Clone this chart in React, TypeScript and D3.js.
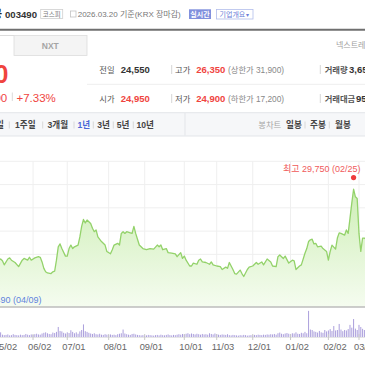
import React from 'react';
import * as d3 from 'd3';

// trading-day index (0 = 2025-05-02) and closing prices (KRW)
const dayIdx = [
  -30, -27, -24, -20, -17, -16, -14, -11, -8, -5, -2,
  0, 1, 2, 3, 5, 6, 7, 9, 11, 13, 14, 16, 17, 18, 20, 22, 23, 24, 25, 26, 27, 29, 30, 31, 32,
  33, 34, 35, 37, 38, 39, 40, 41, 42, 44, 45, 46, 47, 48, 49, 51, 52, 53, 54, 55, 57, 59, 60,
  62, 63, 64, 66, 67, 68, 69, 70, 71, 73, 74, 75, 76, 77, 78, 80, 82, 84, 86, 88, 89, 90, 91,
  93, 94, 96, 98, 99, 101, 102, 103, 104, 106, 107, 108, 110, 111, 112, 113, 115, 117, 118,
  119, 121, 123, 124, 126, 127, 128, 130, 131, 132, 134, 135, 136, 138, 139, 141, 143, 144,
  146, 147, 149, 151, 152, 154, 155, 156, 158, 159, 161, 163, 164, 165, 167, 168, 170, 171,
  172, 173, 174, 175, 176, 177, 179, 180, 182, 183, 184, 185, 187, 188, 189, 190, 192, 193,
  194, 195, 196, 197, 198, 199, 200, 201, 202, 203, 204, 205, 206, 207, 208, 209, 210, 211,
  212, 213,
];
const closes = [
  23800, 23500, 22600, 21300, 20600, 20150, 21000, 21900, 22600, 23100, 23400,
  23550, 23600, 23450, 23100, 23600, 23700, 23500, 23300, 22950, 23500, 23650, 23500, 23750, 23500, 23700, 23800, 23750, 23350, 22800, 22500, 22400, 22350, 22500, 22550, 23500,
  24650, 24900, 24500, 23850, 23850, 24500, 24800, 24500, 24650, 24800, 25500, 26400, 27000, 26700, 26950, 26650, 26250, 25950, 26100, 25500, 25100, 24800, 24250,
  24050, 24400, 24800, 24950, 24800, 25800, 25950, 25800, 25950, 25850, 25800, 26400, 25800, 25300, 24800, 24500, 24400, 24500, 24450, 24800, 24650, 24800, 24400,
  24500, 24150, 24100, 24050, 23800, 24150, 23650, 23850, 23500, 23000, 23000, 23250, 23150, 23500, 23600, 23350, 23300, 23150, 23350,
  23100, 23000, 22950, 22700, 22900, 22800, 23300, 22700, 22350, 22300, 22650, 22350, 22100, 22700, 22900, 23000, 23300, 23150,
  23350, 23100, 23600, 23350, 23000, 22950, 23800, 23950, 23650, 23850, 23250, 23500, 23450, 22700, 23000, 23100, 24100, 24500,
  25100, 25250, 25300, 24900, 24950, 24650, 24700, 24500, 24250, 23500, 24250, 24800, 24450, 25400, 25850, 25800, 25650, 26100,
  25800, 27100, 28400, 29600, 28950, 28800, 25800, 24250, 25400, 25400, 25300, 25000, 24700, 25200, 24800, 25100, 24900, 24700,
  24550, 26350,
];

// daily volume (million shares), index 0 = 2025-05-02
const volumes = [
  4.3, 2.0, 1.0, 0.8, 0.9, 1.1, 0.7, 0.8, 1.2, 0.9,
  0.8, 0.7, 1.0, 0.8, 0.9, 1.3, 1.0, 0.8, 1.1, 0.9,
  1.2, 1.4, 1.1, 1.0, 1.5, 1.8, 2.0, 1.6, 1.3, 1.2,
  1.9, 1.7, 2.2, 4.3, 2.6, 2.4, 1.8, 1.5, 2.0, 1.7,
  2.9, 2.2, 1.6, 2.0, 1.4, 2.4, 3.0, 5.4, 2.5, 2.2,
  1.8, 1.5, 1.3, 1.6, 1.2, 1.1, 1.4, 1.0, 0.9, 1.2,
  1.0, 0.8, 1.1, 0.9, 1.0, 0.8, 1.2, 1.4, 1.6, 3.2,
  1.5, 1.2, 1.0, 0.9, 1.3, 1.4, 1.1, 0.9, 0.8, 0.7,
  0.8, 0.6, 0.7, 0.9, 0.8, 0.7, 0.6, 0.8, 0.9, 0.7,
  1.0, 0.8, 0.7, 0.9, 1.1, 0.8, 0.7, 0.9, 0.8, 1.0,
  1.2, 1.0, 1.3, 1.1, 1.4, 1.6, 1.2, 1.5, 1.3, 1.1,
  1.4, 1.2, 1.0, 1.3, 1.1, 1.2, 1.0, 1.6, 1.3, 1.1,
  1.5, 1.2, 1.0, 0.9, 1.1, 1.0, 0.9, 1.2, 0.8, 0.7,
  0.9, 0.8, 0.7, 0.6, 0.8, 0.7, 0.9, 0.8, 0.6, 0.7,
  0.8, 0.7, 0.9, 0.8, 1.0, 0.9, 0.8, 1.0, 0.9, 1.1,
  1.0, 1.2, 1.1, 1.3, 1.0, 1.6, 1.9, 1.4, 1.2, 1.5,
  1.7, 1.4, 1.3, 1.6, 1.5, 2.0, 1.4, 1.3, 1.8, 1.6,
  2.2, 1.6, 11.2, 3.2, 3.0, 2.4, 2.2, 1.9, 2.6, 2.0,
  1.8, 3.0, 2.4, 2.8, 3.4, 2.6, 4.7, 2.8, 3.0, 5.6,
  3.2, 2.5, 3.0, 2.8, 3.4, 5.2, 4.0, 7.7, 3.6, 3.0,
  5.2, 4.3, 3.5, 3.0, 2.8, 2.5, 2.2, 2.6, 2.0, 2.3,
  2.1, 1.9, 1.8, 3.5,
];

const tickDays = [0, 19, 38, 61, 81, 103, 121, 141, 162, 183, 200];
const tickLabels = ['05/02', '06/02', '07/01', '08/01', '09/01', '10/01', '11/03', '12/01', '01/02', '02/02', '03/03'];
const priceGrid = [20000, 22000, 24000, 26000, 28000, 30000, 32000];

const highDay = 197;
const highLabel = '최고 29,750 (02/25)';
const lowLabel = '최저 19,490 (04/09)';

const periods = ['일', '1주일', '3개월', '1년', '3년', '5년', '10년'];
const periodX = [-4, 15, 47.5, 77.5, 97.3, 116.7, 136.5];
const periodSep = [9.3, 42.7, 74, 93.3, 113.3, 133.3];

const RED = '#f0443e';
const FONT = "'Liberation Sans', 'Noto Sans CJK KR', sans-serif";

export default function App() {
  const x = d3.scaleLinear().domain([-30, 213]).range([-55.2, 382.4]);
  const y = d3.scaleLinear().domain([20000, 32000]).range([300.9, 161.3]);
  const v = d3.scaleLinear().domain([0, 12]).range([337, 309]);
  const plotBottom = 307;
  const pts = dayIdx.map((d, i) => [d, closes[i]] as [number, number]);
  const line = d3.line<[number, number]>().x(p => x(p[0])).y(p => y(p[1]))(pts) || '';
  const area = d3.area<[number, number]>().x(p => x(p[0])).y0(plotBottom).y1(p => y(p[1]))(pts) || '';
  const hi = pts.find(p => p[0] === highDay)!;
  const hx = x(hi[0]);
  const hy = y(hi[1]);

  return (
    <svg width={365} height={365} style={{ position: 'fixed', left: 0, top: 0, background: '#fff' }} fontFamily={FONT}>
      <defs>
        <linearGradient id="fillG" gradientUnits="userSpaceOnUse" x1="0" y1="185" x2="0" y2="307">
          <stop offset="0" stopColor="#cdeeb4" />
          <stop offset="1" stopColor="#f5fcf0" />
        </linearGradient>
        <clipPath id="plotClip"><rect x={0} y={150} width={365} height={plotBottom - 150} /></clipPath>
      </defs>

      {/* header */}
      <text x={2} y={17.5} fontSize={11} fontWeight="bold" fill="#222" textAnchor="end">대한항공</text>
      <text x={5} y={17.5} fontSize={9.6} fontWeight="bold" fill="#333">003490</text>
      <rect x={40.7} y={9.5} width={22} height={9} fill="#fff" stroke="#cfcfcf" strokeWidth={0.8} />
      <text x={51.7} y={16.6} fontSize={6.5} fill="#777" textAnchor="middle">코스피</text>
      <rect x={70.5} y={11} width={5.5} height={6} fill="#fff" stroke="#c3c3c3" strokeWidth={0.8} />
      <text x={77.7} y={17} fontSize={8} fill="#777">2026.03.20 기준(KRX 장마감)</text>
      <rect x={189} y={9.3} width={22} height={9.7} fill="#8190dd" />
      <text x={200} y={16.8} fontSize={7} fill="#fff" textAnchor="middle" fontWeight="bold">실시간</text>
      <rect x={216.5} y={9.5} width={36.5} height={9.5} fill="#fff" stroke="#b2bdec" strokeWidth={0.8} />
      <text x={219.5} y={16.8} fontSize={7} fill="#6c7ed8">기업개요</text>
      <text x={246} y={16.6} fontSize={6} fill="#6c7ed8">▾</text>
      <line x1={0} x2={365} y1={29.7} y2={29.7} stroke="#6f6f6f" strokeWidth={2} />

      {/* tabs */}
      <line x1={0} x2={14} y1={35.5} y2={35.5} stroke="#dcdcdc" />
      <rect x={14} y={35.5} width={73} height={20} fill="#f4f4f4" stroke="#dcdcdc" strokeWidth={0.8} />
      <text x={50.3} y={48.5} fontSize={8.5} fontWeight="bold" fill="#a5a5a5" textAnchor="middle">NXT</text>
      <text x={336} y={48} fontSize={8} fill="#a0a0a0">넥스트레이드</text>

      {/* price */}
      <text x={8.5} y={83.3} fontSize={25} fontWeight="bold" fill={RED} textAnchor="end">26,350</text>
      <text x={7.2} y={101.7} fontSize={11.5} fill={RED} textAnchor="end">▲1,800</text>
      <line x1={12.3} x2={12.3} y1={92.5} y2={101} stroke="#dadada" />
      <text x={16.5} y={101.7} fontSize={11.5} fill={RED}>+7.33%</text>

      {/* info rows */}
      <line x1={87} x2={365} y1={84.3} y2={84.3} stroke="#eeeeee" />
      <text x={99.3} y={72.6} fontSize={8.3} fill="#555">전일</text>
      <text x={120.7} y={72.8} fontSize={9.5} fontWeight="bold" fill="#333">24,550</text>
      <line x1={171.7} x2={171.7} y1={65} y2={74} stroke="#d6d6d6" />
      <text x={175} y={72.6} fontSize={8.3} fill="#555">고가</text>
      <text x={196.3} y={72.8} fontSize={9.5} fontWeight="bold" fill={RED}>26,350</text>
      <text x={228} y={72.6} fontSize={8.3} fill="#888">(상한가 31,900)</text>
      <line x1={320.3} x2={320.3} y1={65} y2={74} stroke="#d6d6d6" />
      <text x={324.7} y={72.6} fontSize={8.3} fontWeight="bold" fill="#555">거래량</text>
      <text x={349} y={72.8} fontSize={9.5} fontWeight="bold" fill="#333">3,652,417</text>

      <text x={99.3} y={101.6} fontSize={8.3} fill="#555">시가</text>
      <text x={120.7} y={101.8} fontSize={9.5} fontWeight="bold" fill={RED}>24,950</text>
      <line x1={171.7} x2={171.7} y1={94} y2={103} stroke="#d6d6d6" />
      <text x={175} y={101.6} fontSize={8.3} fill="#555">저가</text>
      <text x={196.3} y={101.8} fontSize={9.5} fontWeight="bold" fill={RED}>24,900</text>
      <text x={228} y={101.6} fontSize={8.3} fill="#888">(하한가 17,200)</text>
      <line x1={320.3} x2={320.3} y1={94} y2={103} stroke="#d6d6d6" />
      <text x={324.7} y={101.6} fontSize={8.3} fontWeight="bold" fill="#555">거래대금</text>
      <text x={356} y={101.8} fontSize={9.5} fontWeight="bold" fill="#333">95,130</text>

      {/* period bar */}
      <rect x={-1} y={112.7} width={367} height={23.3} fill="#f6f7f9" stroke="#e3e5e9" strokeWidth={1} />
      <line x1={185} x2={185} y1={113} y2={135.5} stroke="#e3e5e9" />
      {periods.map((p, i) => (
        <text key={p} x={periodX[i]} y={128.3} fontSize={8.6} fontWeight="bold" fill={p === '1년' ? '#4a68d8' : '#444'}>{p}</text>
      ))}
      {periodSep.map((s, i) => (
        <line key={i} x1={s} x2={s} y1={121.5} y2={128.5} stroke="#d8d8d8" />
      ))}
      <text x={258.3} y={128.3} fontSize={8.3} fill="#a6a6a6">봉차트</text>
      <text x={286} y={128.3} fontSize={8.6} fontWeight="bold" fill="#444">일봉</text>
      <line x1={305} x2={305} y1={121.5} y2={128.5} stroke="#d8d8d8" />
      <text x={310} y={128.3} fontSize={8.6} fontWeight="bold" fill="#444">주봉</text>
      <line x1={329.3} x2={329.3} y1={121.5} y2={128.5} stroke="#d8d8d8" />
      <text x={335} y={128.3} fontSize={8.6} fontWeight="bold" fill="#444">월봉</text>

      {/* grid */}
      {priceGrid.map(g => (
        <line key={g} x1={0} x2={365} y1={y(g)} y2={y(g)} stroke="#efefef" />
      ))}
      {tickDays.map(d => (
        <line key={d} x1={x(d)} x2={x(d)} y1={y(32000)} y2={plotBottom} stroke="#efefef" />
      ))}

      {/* price area & line */}
      <g clipPath="url(#plotClip)">
        <path d={area} fill="url(#fillG)" />
        <path d={line} fill="none" stroke="#93d26a" strokeWidth={1.3} strokeLinejoin="round" />
      </g>
      <circle cx={hx} cy={hy - 11.6} r={2.6} fill="#ee3b3b" />
      <text x={hx + 7} y={171.5} fontSize={9} fill="#f05a5a" textAnchor="end">{highLabel}</text>
      <text x={41.5} y={303.3} fontSize={9} fill="#5f83dd" textAnchor="end">{lowLabel}</text>
      <line x1={0} x2={365} y1={plotBottom} y2={plotBottom} stroke="#bdbdbd" strokeWidth={1.6} />

      {/* volume */}
      <line x1={0} x2={365} y1={337.5} y2={337.5} stroke="#e6e6e6" />
      {volumes.map((val, i) => (
        <rect key={i} x={x(i) - 0.5} y={v(val)} width={1} height={337 - v(val)} fill="#ab9fdc" />
      ))}
      {tickDays.map((d, i) => (
        <g key={d}>
          <line x1={x(d)} x2={x(d)} y1={334} y2={340} stroke="#c8c8c8" />
          <text x={x(d) - 5} y={350} fontSize={9.3} fill="#666">{tickLabels[i]}</text>
        </g>
      ))}
    </svg>
  );
}
